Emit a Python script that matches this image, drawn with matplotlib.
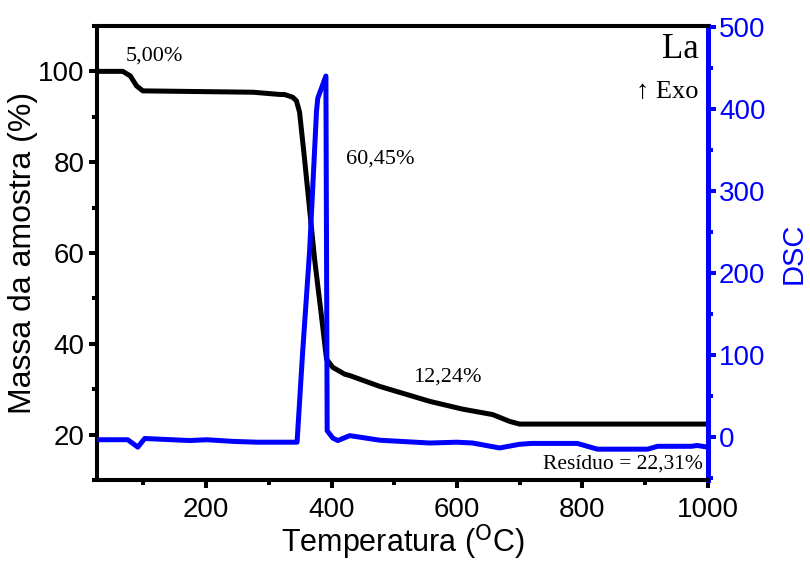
import matplotlib
matplotlib.use("Agg")
import matplotlib.pyplot as plt
from matplotlib.ticker import MultipleLocator

# TGA curve: temperature (C) vs sample mass (%)
tga_temp = [26, 67, 79, 89, 99, 158, 275, 318, 325, 338, 344, 349, 357, 365, 373,
            384, 392, 402, 421, 429, 477, 557, 609, 657, 684, 700, 1000]
tga_mass = [100.0, 100.0, 99.0, 96.8, 95.7, 95.6, 95.4, 94.9, 94.9, 94.3, 93.5, 91.0,
            80.6, 69.6, 58.6, 46.0, 36.6, 34.8, 33.3, 33.0, 30.6, 27.3, 25.6, 24.4,
            22.9, 22.31, 22.31]

# DSC curve: temperature (C) vs heat flow
dsc_temp = [26, 75, 91, 102, 174, 201, 243, 281, 333, 345, 354, 365, 376, 378, 391,
            393, 402, 410, 429, 477, 557, 600, 625, 668, 700, 719, 792, 824, 904,
            920, 974, 983, 1000]
dsc_heat = [-3, -3, -12, -1.5, -4, -3, -5, -6, -6, -6, 105, 227, 397, 413, 440,
            8, -1, -4, 2, -3.6, -7, -6, -7, -13, -8.5, -7.5, -7.5, -14.5, -14.5,
            -11, -11, -10, -12]

plt.rcParams['font.family'] = ['Liberation Sans', 'DejaVu Sans']

fig = plt.figure(figsize=(8.1, 5.64), dpi=100)
ax = fig.add_axes([0.1198, 0.149, 0.754, 0.805])
ax2 = ax.twinx()

ax.plot(tga_temp, tga_mass, color='black', lw=3.6, solid_joinstyle='round')
ax2.plot(dsc_temp, dsc_heat, color='blue', lw=3.6, solid_joinstyle='round')

ax.set_xlim(26, 1000)
ax.set_ylim(10, 110)
ax2.set_ylim(-52, 501)

ax.xaxis.set_major_locator(MultipleLocator(200))
ax.xaxis.set_minor_locator(MultipleLocator(100))
ax.yaxis.set_major_locator(MultipleLocator(20))
ax.yaxis.set_minor_locator(MultipleLocator(10))
ax2.yaxis.set_major_locator(MultipleLocator(100))
ax2.yaxis.set_minor_locator(MultipleLocator(50))

for sp in ax.spines.values():
    sp.set_linewidth(2.9)
for sp in ax2.spines.values():
    sp.set_linewidth(2.9)
ax2.spines['right'].set_color('blue')
ax2.spines['right'].set_linewidth(3.6)
ax2.spines['left'].set_visible(False)

ax.tick_params(which='major', direction='out', length=6, width=2.9,
               labelsize=20, pad=3)
ax.tick_params(axis='x', which='major', pad=6)
ax.tick_params(which='minor', direction='out', length=3.5, width=2.9)
ax.tick_params(axis='y', which='both', right=False)
ax2.tick_params(which='major', direction='out', length=6, width=2.9,
                colors='blue', labelsize=20, pad=2)
ax2.tick_params(which='minor', direction='out', length=3.5, width=2.9, colors='blue')

ax.set_xlabel('Temperatura ($^{\\mathrm{O}}$C)', fontsize=22, labelpad=0)
ax.set_ylabel('Massa da amostra (%)', fontsize=23, labelpad=0)
ax2.set_ylabel('DSC', fontsize=21, color='blue', labelpad=10)

serif = ['Liberation Serif', 'DejaVu Serif']
ax.text(117, 103.3, '5,00%', family=serif, fontsize=16, ha='center', va='center')
ax.text(477, 80.6, '60,45%', family=serif, fontsize=16, ha='center', va='center')
ax.text(584, 32.6, '12,24%', family=serif, fontsize=16, ha='center', va='center')
ax.text(992, 13.4, 'Resíduo = 22,31%', family=serif, fontsize=15.5,
        ha='right', va='center')
ax.text(985, 104.8, 'La', family=serif, fontsize=25, ha='right', va='center')
ax.text(985, 95.4, '↑ Exo', family=serif, fontsize=19, ha='right', va='center')

fig.savefig('out.png', dpi=100)
